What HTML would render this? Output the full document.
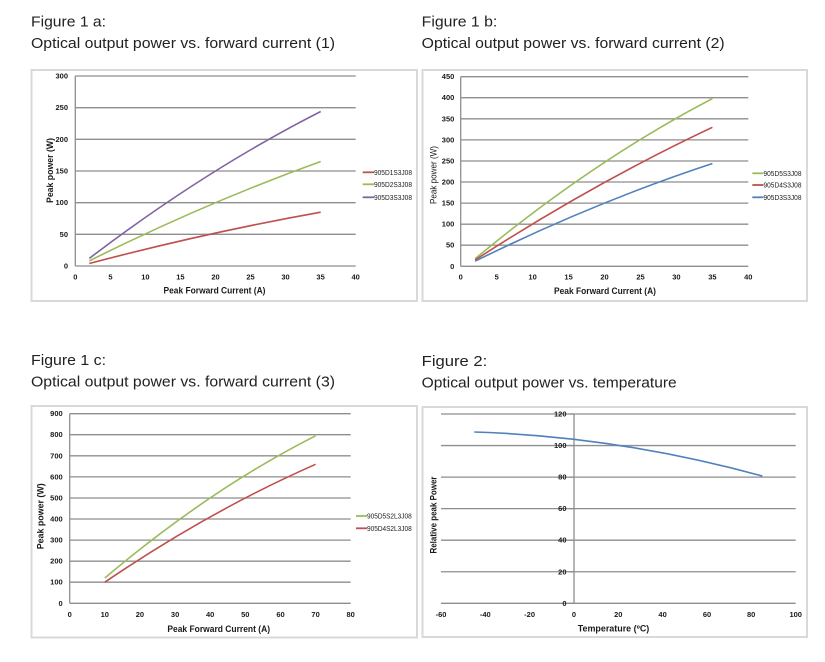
<!DOCTYPE html>
<html><head><meta charset="utf-8"><style>
html,body{margin:0;padding:0;background:#fff;}
svg{display:block;}
text{font-family:"Liberation Sans",sans-serif;fill:#1a1a1a;}
.t{font-size:15px;fill:#222;}
.tk{font-size:7.5px;font-weight:bold;}
.ax{font-size:9px;font-weight:bold;}
.lg{font-size:7px;}
.g{stroke:#8e8e8e;stroke-width:1.3;fill:none;}
.fr{fill:none;stroke:#d9d9d9;stroke-width:2;}
.s{fill:none;stroke-width:1.6;}
</style></head><body>
<svg width="825" height="662" viewBox="0 0 825 662" xmlns="http://www.w3.org/2000/svg">
<rect width="825" height="662" fill="#fff"/>

<!-- Titles -->
<text class="t" x="31" y="26.7" textLength="75" lengthAdjust="spacingAndGlyphs">Figure 1 a:</text>
<text class="t" x="31" y="48" textLength="304" lengthAdjust="spacingAndGlyphs">Optical output power vs. forward current (1)</text>
<text class="t" x="421.7" y="26.7" textLength="75.6" lengthAdjust="spacingAndGlyphs">Figure 1 b:</text>
<text class="t" x="421.7" y="48" textLength="303" lengthAdjust="spacingAndGlyphs">Optical output power vs. forward current (2)</text>
<text class="t" x="31" y="365" textLength="75" lengthAdjust="spacingAndGlyphs">Figure 1 c:</text>
<text class="t" x="31" y="386.7" textLength="304" lengthAdjust="spacingAndGlyphs">Optical output power vs. forward current (3)</text>
<text class="t" x="421.7" y="366" textLength="65.6" lengthAdjust="spacingAndGlyphs">Figure 2:</text>
<text class="t" x="421.7" y="387.3" textLength="255" lengthAdjust="spacingAndGlyphs">Optical output power vs. temperature</text>

<!-- Frames -->
<rect class="fr" x="31.5" y="70" width="385.5" height="231"/>
<rect class="fr" x="422.5" y="70" width="384.5" height="231"/>
<rect class="fr" x="31.5" y="406" width="385.5" height="231.5"/>
<rect class="fr" x="422.5" y="407" width="384.5" height="230"/>

<!-- ===== Chart 1a ===== -->
<g class="g">
<line x1="75.3" y1="266" x2="355.7" y2="266"/>
<line x1="75.3" y1="234.3" x2="355.7" y2="234.3"/>
<line x1="75.3" y1="202.7" x2="355.7" y2="202.7"/>
<line x1="75.3" y1="171" x2="355.7" y2="171"/>
<line x1="75.3" y1="139.3" x2="355.7" y2="139.3"/>
<line x1="75.3" y1="107.7" x2="355.7" y2="107.7"/>
<line x1="75.3" y1="76" x2="355.7" y2="76"/>
<line x1="75.3" y1="76" x2="75.3" y2="266"/>
</g>
<g class="tk" text-anchor="end">
<text x="68" y="268.5">0</text>
<text x="68" y="236.8">50</text>
<text x="68" y="205.2">100</text>
<text x="68" y="173.5">150</text>
<text x="68" y="141.8">200</text>
<text x="68" y="110.2">250</text>
<text x="68" y="78.5">300</text>
</g>
<g class="tk" text-anchor="middle">
<text x="75.3" y="279.5">0</text>
<text x="110.4" y="279.5">5</text>
<text x="145.4" y="279.5">10</text>
<text x="180.4" y="279.5">15</text>
<text x="215.5" y="279.5">20</text>
<text x="250.5" y="279.5">25</text>
<text x="285.5" y="279.5">30</text>
<text x="320.6" y="279.5">35</text>
<text x="355.7" y="279.5">40</text>
</g>
<text class="ax" x="214.5" y="293.5" text-anchor="middle" textLength="102" lengthAdjust="spacingAndGlyphs">Peak Forward Current (A)</text>
<text class="ax" transform="translate(50,170.5) rotate(-90)" text-anchor="middle" dominant-baseline="central" textLength="65" lengthAdjust="spacingAndGlyphs">Peak power (W)</text>
<path class="s" stroke="#c0504d" d="M89.3,263.5 Q205,232.9 320.7,212.2"/>
<path class="s" stroke="#9bbb59" d="M89.3,260.9 Q205,203.1 320.7,161.5"/>
<path class="s" stroke="#8064a2" d="M89.3,258.4 Q205,170.3 320.7,111.5"/>
<line x1="362.7" y1="172.3" x2="374" y2="172.3" stroke="#c0504d" stroke-width="1.8"/>
<line x1="362.7" y1="184.3" x2="374" y2="184.3" stroke="#9bbb59" stroke-width="1.8"/>
<line x1="362.7" y1="197.3" x2="374" y2="197.3" stroke="#8064a2" stroke-width="1.8"/>
<g class="lg">
<text x="374" y="174.8" textLength="38" lengthAdjust="spacingAndGlyphs">905D1S3J08</text>
<text x="374" y="186.8" textLength="38" lengthAdjust="spacingAndGlyphs">905D2S3J08</text>
<text x="374" y="199.8" textLength="38" lengthAdjust="spacingAndGlyphs">905D3S3J08</text>
</g>

<!-- ===== Chart 1b ===== -->
<g class="g">
<line x1="460.7" y1="266.3" x2="748.3" y2="266.3"/>
<line x1="460.7" y1="245.2" x2="748.3" y2="245.2"/>
<line x1="460.7" y1="224.2" x2="748.3" y2="224.2"/>
<line x1="460.7" y1="203.1" x2="748.3" y2="203.1"/>
<line x1="460.7" y1="182" x2="748.3" y2="182"/>
<line x1="460.7" y1="161" x2="748.3" y2="161"/>
<line x1="460.7" y1="139.9" x2="748.3" y2="139.9"/>
<line x1="460.7" y1="118.8" x2="748.3" y2="118.8"/>
<line x1="460.7" y1="97.7" x2="748.3" y2="97.7"/>
<line x1="460.7" y1="76.7" x2="748.3" y2="76.7"/>
<line x1="460.7" y1="76.7" x2="460.7" y2="266.3"/>
</g>
<g class="tk" text-anchor="end">
<text x="454.3" y="268.8">0</text>
<text x="454.3" y="247.7">50</text>
<text x="454.3" y="226.7">100</text>
<text x="454.3" y="205.6">150</text>
<text x="454.3" y="184.5">200</text>
<text x="454.3" y="163.5">250</text>
<text x="454.3" y="142.4">300</text>
<text x="454.3" y="121.3">350</text>
<text x="454.3" y="100.2">400</text>
<text x="454.3" y="79.2">450</text>
</g>
<g class="tk" text-anchor="middle">
<text x="460.7" y="279.5">0</text>
<text x="496.7" y="279.5">5</text>
<text x="532.6" y="279.5">10</text>
<text x="568.6" y="279.5">15</text>
<text x="604.5" y="279.5">20</text>
<text x="640.5" y="279.5">25</text>
<text x="676.4" y="279.5">30</text>
<text x="712.4" y="279.5">35</text>
<text x="748.3" y="279.5">40</text>
</g>
<text class="ax" x="605" y="294" text-anchor="middle" textLength="102" lengthAdjust="spacingAndGlyphs">Peak Forward Current (A)</text>
<text transform="translate(433.3,175) rotate(-90)" style="font-size:9px" text-anchor="middle" dominant-baseline="central" textLength="58" lengthAdjust="spacingAndGlyphs">Peak power (W)</text>
<path class="s" stroke="#9bbb59" d="M475.1,258.7 Q593.7,160.5 712.4,98.6"/>
<path class="s" stroke="#c0504d" d="M475.1,260 Q593.7,183.2 712.4,127.3"/>
<path class="s" stroke="#4f81bd" d="M475.1,261.2 Q593.7,202.6 712.4,163.5"/>
<line x1="752.3" y1="173.3" x2="763.5" y2="173.3" stroke="#9bbb59" stroke-width="1.8"/>
<line x1="752.3" y1="185" x2="763.5" y2="185" stroke="#c0504d" stroke-width="1.8"/>
<line x1="752.3" y1="197.3" x2="763.5" y2="197.3" stroke="#4f81bd" stroke-width="1.8"/>
<g class="lg">
<text x="763.5" y="175.8" textLength="38" lengthAdjust="spacingAndGlyphs">905D5S3J08</text>
<text x="763.5" y="187.5" textLength="38" lengthAdjust="spacingAndGlyphs">905D4S3J08</text>
<text x="763.5" y="199.8" textLength="38" lengthAdjust="spacingAndGlyphs">905D3S3J08</text>
</g>

<!-- ===== Chart 1c ===== -->
<g class="g">
<line x1="69.7" y1="603.3" x2="350.7" y2="603.3"/>
<line x1="69.7" y1="582.2" x2="350.7" y2="582.2"/>
<line x1="69.7" y1="561.2" x2="350.7" y2="561.2"/>
<line x1="69.7" y1="540.1" x2="350.7" y2="540.1"/>
<line x1="69.7" y1="519" x2="350.7" y2="519"/>
<line x1="69.7" y1="498" x2="350.7" y2="498"/>
<line x1="69.7" y1="476.9" x2="350.7" y2="476.9"/>
<line x1="69.7" y1="455.8" x2="350.7" y2="455.8"/>
<line x1="69.7" y1="434.7" x2="350.7" y2="434.7"/>
<line x1="69.7" y1="413.7" x2="350.7" y2="413.7"/>
<line x1="69.7" y1="413.7" x2="69.7" y2="603.3"/>
</g>
<g class="tk" text-anchor="end">
<text x="62.7" y="605.8">0</text>
<text x="62.7" y="584.7">100</text>
<text x="62.7" y="563.7">200</text>
<text x="62.7" y="542.6">300</text>
<text x="62.7" y="521.5">400</text>
<text x="62.7" y="500.5">500</text>
<text x="62.7" y="479.4">600</text>
<text x="62.7" y="458.3">700</text>
<text x="62.7" y="437.2">800</text>
<text x="62.7" y="416.2">900</text>
</g>
<g class="tk" text-anchor="middle">
<text x="69.7" y="617">0</text>
<text x="104.8" y="617">10</text>
<text x="139.95" y="617">20</text>
<text x="175.1" y="617">30</text>
<text x="210.2" y="617">40</text>
<text x="245.3" y="617">50</text>
<text x="280.5" y="617">60</text>
<text x="315.6" y="617">70</text>
<text x="350.7" y="617">80</text>
</g>
<text class="ax" x="218.7" y="632" text-anchor="middle" textLength="102.7" lengthAdjust="spacingAndGlyphs">Peak Forward Current (A)</text>
<text class="ax" transform="translate(40.7,516.3) rotate(-90)" text-anchor="middle" dominant-baseline="central" textLength="66" lengthAdjust="spacingAndGlyphs">Peak power (W)</text>
<path class="s" stroke="#9bbb59" d="M104.8,578 Q210.2,489 315.6,435.8"/>
<path class="s" stroke="#c0504d" d="M104.8,582.2 Q210.2,510.6 315.6,464.3"/>
<line x1="356" y1="516" x2="367" y2="516" stroke="#9bbb59" stroke-width="1.8"/>
<line x1="356" y1="528.3" x2="367" y2="528.3" stroke="#c0504d" stroke-width="1.8"/>
<g class="lg">
<text x="367" y="518.5" textLength="44.7" lengthAdjust="spacingAndGlyphs">905D5S2L3J08</text>
<text x="367" y="530.8" textLength="44.7" lengthAdjust="spacingAndGlyphs">905D4S2L3J08</text>
</g>

<!-- ===== Figure 2 ===== -->
<g class="g">
<line x1="441" y1="603.3" x2="795.7" y2="603.3"/>
<line x1="441" y1="571.75" x2="795.7" y2="571.75"/>
<line x1="441" y1="540.2" x2="795.7" y2="540.2"/>
<line x1="441" y1="508.65" x2="795.7" y2="508.65"/>
<line x1="441" y1="477.1" x2="795.7" y2="477.1"/>
<line x1="441" y1="445.55" x2="795.7" y2="445.55"/>
<line x1="441" y1="414" x2="795.7" y2="414"/>
<line x1="574" y1="414" x2="574" y2="603.3"/>
<line x1="569" y1="603.3" x2="574" y2="603.3"/>
<line x1="569" y1="571.75" x2="574" y2="571.75"/>
<line x1="569" y1="540.2" x2="574" y2="540.2"/>
<line x1="569" y1="508.65" x2="574" y2="508.65"/>
<line x1="569" y1="477.1" x2="574" y2="477.1"/>
<line x1="569" y1="445.55" x2="574" y2="445.55"/>
<line x1="569" y1="414" x2="574" y2="414"/>
</g>
<g class="tk" text-anchor="end">
<text x="566.5" y="605.8">0</text>
<text x="566.5" y="574.25">20</text>
<text x="566.5" y="542.7">40</text>
<text x="566.5" y="511.15">60</text>
<text x="566.5" y="479.6">80</text>
<text x="566.5" y="448.05">100</text>
<text x="566.5" y="416.5">120</text>
</g>
<g class="tk" text-anchor="middle">
<text x="441" y="617">-60</text>
<text x="485.3" y="617">-40</text>
<text x="529.6" y="617">-20</text>
<text x="574" y="617">0</text>
<text x="618.3" y="617">20</text>
<text x="662.6" y="617">40</text>
<text x="707" y="617">60</text>
<text x="751.2" y="617">80</text>
<text x="795.7" y="617">100</text>
</g>
<text class="ax" x="613.5" y="631.5" text-anchor="middle" textLength="71.6" lengthAdjust="spacingAndGlyphs">Temperature (ºC)</text>
<text class="ax" transform="translate(433.3,515) rotate(-90)" text-anchor="middle" dominant-baseline="central" textLength="77" lengthAdjust="spacingAndGlyphs">Relative peak Power</text>
<path class="s" stroke="#4f81bd" d="M474.3,432 Q618.3,436.5 762.3,476"/>
</svg>
</body></html>
